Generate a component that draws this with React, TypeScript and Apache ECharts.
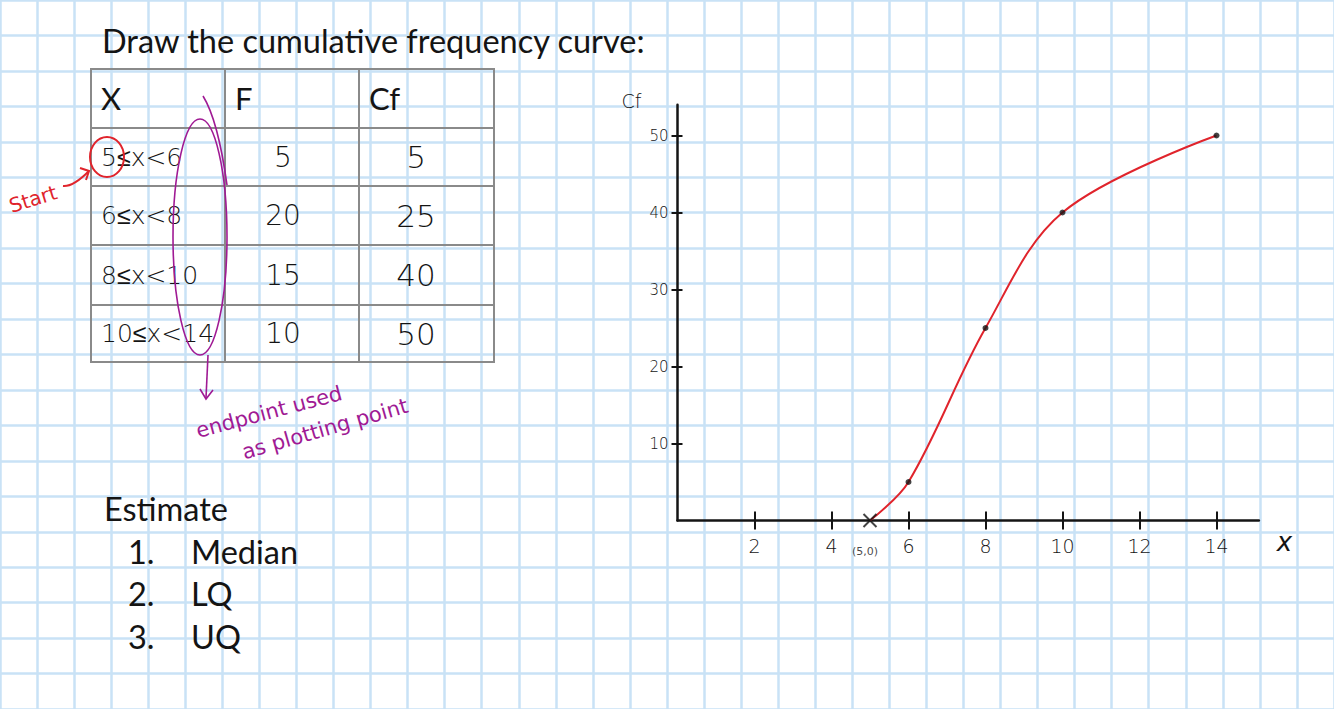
import React, { useEffect, useRef } from "react";
import * as echarts from "echarts";

// ---- data ----
const classLower = [5, 6, 8, 10];
const classUpper = [6, 8, 10, 14];
const frequency = [5, 20, 15, 10];
const cumFrequency = [5, 25, 40, 50];
const tableHeaders = ["X", "F", "Cf"];
const xTickValues = [2, 4, 6, 8, 10, 12, 14];
const yTickValues = [10, 20, 30, 40, 50];
const estimateItems = ["Median", "LQ", "UQ"];
const titleText = "Draw the cumulative frequency curve:";
const startNote = "Start";
const endNoteLines = ["endpoint used", "as plotting point"];

const startPoint = [classLower[0], 0];
const plotPoints = classUpper.map((u, i) => [u, cumFrequency[i]]);
const curvePoints = [startPoint, ...plotPoints];

// ---- styles ----
const INK = "#141414";
const RED = "#e0242c";
const PURPLE = "#a01a94";
const GRIDBLUE = "#c9e2f6";
const TABLE_LINE = "#8a8a8a";
const PRINT_FONT = "Lato, 'Open Sans', sans-serif";
const HAND_FONT = "'DejaVu Sans', sans-serif";
const CELL = 38.5;

function buildGraphics() {
  const g: any[] = [];
  const txt = (text: string, x: number, y: number, o: any = {}) => ({
    type: "text",
    x,
    y,
    rotation: o.rotation || 0,
    z: 20,
    style: {
      text,
      fill: o.fill || INK,
      fontSize: o.fontSize || 32,
      fontFamily: o.fontFamily || PRINT_FONT,
      fontWeight: o.fontWeight || "normal",
      align: o.align || "left",
      textAlign: o.align || "left",
      verticalAlign: "middle",
      textVerticalAlign: "middle",
    },
  });
  // title
  g.push(txt(titleText, 102, 40, { fontSize: 32.5 }));

  // table
  const colX = [91, 225, 359, 494];
  const rowY = [69, 128, 186, 245, 305, 362];
  g.push({
    type: "rect",
    z: 20,
    shape: { x: colX[0], y: rowY[0], width: colX[3] - colX[0], height: rowY[5] - rowY[0] },
    style: { fill: "none", stroke: TABLE_LINE, lineWidth: 2 },
  });
  colX.slice(1, 3).forEach((x) =>
    g.push({ type: "line", z: 20, shape: { x1: x, y1: rowY[0], x2: x, y2: rowY[5] }, style: { stroke: TABLE_LINE, lineWidth: 2 } })
  );
  rowY.slice(1, 5).forEach((y) =>
    g.push({ type: "line", z: 20, shape: { x1: colX[0], y1: y, x2: colX[3], y2: y }, style: { stroke: TABLE_LINE, lineWidth: 2 } })
  );
  tableHeaders.forEach((h, i) => g.push(txt(h, colX[i] + 10, 98, { fontSize: 31 })));
  classLower.forEach((lo, i) => {
    const cy = (rowY[i + 1] + rowY[i + 2]) / 2;
    g.push(txt(`${lo}≤x<${classUpper[i]}`, 101, cy, { fontSize: 25, fontFamily: HAND_FONT, fontWeight: 300 }));
    g.push(txt(String(frequency[i]), 283, cy, { fontSize: 28, fontFamily: HAND_FONT, fontWeight: 300, align: "center" }));
    g.push(txt(String(cumFrequency[i]), 416, cy, { fontSize: 31, fontFamily: HAND_FONT, fontWeight: 300, align: "center" }));
  });

  // red "start" annotation
  g.push({ type: "ellipse", z: 21, shape: { cx: 107, cy: 157, rx: 17, ry: 20 }, style: { fill: "none", stroke: RED, lineWidth: 2 } });
  g.push({ type: "bezierCurve", z: 21, shape: { x1: 63, y1: 186, cpx1: 73, cpy1: 187, x2: 89, y2: 171 }, style: { fill: "none", stroke: RED, lineWidth: 2 } });
  g.push({ type: "polyline", z: 21, shape: { points: [[80, 168], [89, 171], [86, 180]] }, style: { fill: "none", stroke: RED, lineWidth: 2 } });
  g.push(txt(startNote, 33, 199, { fill: RED, fontSize: 20, fontFamily: HAND_FONT, align: "center", rotation: 0.3 }));

  // purple "endpoint" annotation
  g.push({ type: "ellipse", z: 21, shape: { cx: 200, cy: 237, rx: 27, ry: 118 }, style: { fill: "none", stroke: PURPLE, lineWidth: 1.6 } });
  g.push({ type: "bezierCurve", z: 21, shape: { x1: 203, y1: 96, cpx1: 218, cpy1: 120, x2: 227, y2: 185 }, style: { fill: "none", stroke: PURPLE, lineWidth: 1.6 } });
  g.push({ type: "line", z: 21, shape: { x1: 208, y1: 355, x2: 206, y2: 398 }, style: { stroke: PURPLE, lineWidth: 1.6 } });
  g.push({ type: "polyline", z: 21, shape: { points: [[200, 389], [206, 399], [213, 390]] }, style: { fill: "none", stroke: PURPLE, lineWidth: 1.6 } });
  g.push(txt(endNoteLines[0], 269, 412, { fill: PURPLE, fontSize: 21, fontFamily: HAND_FONT, align: "center", rotation: 0.26 }));
  g.push(txt(endNoteLines[1], 325, 429, { fill: PURPLE, fontSize: 21, fontFamily: HAND_FONT, align: "center", rotation: 0.28 }));

  // estimate list
  g.push(txt("Estimate", 104, 508, { fontSize: 32.5 }));
  estimateItems.forEach((item, i) => {
    const cy = 551 + i * 42.5;
    g.push(txt(`${i + 1}.`, 128, cy, { fontSize: 32.5 }));
    g.push(txt(item, 191, cy, { fontSize: 32.5 }));
  });
  return g;
}

const X0 = 677.5;
const Y0 = 520.5;
const X_MAX = 15.1;
const Y_MAX = 54;

export default function App() {
  const ref = useRef<HTMLDivElement>(null);
  useEffect(() => {
    document.body.style.margin = "0";
    if (!ref.current) return;
    const chart = echarts.init(ref.current, undefined, { renderer: "svg" });
    const xPx = CELL; // 1 x-unit per grid cell
    const yPx = CELL / 5; // 5 y-units per grid cell
    const handLabel = { color: INK, fontFamily: HAND_FONT, fontSize: 19, fontWeight: 300 };
    chart.setOption({
      animation: false,
      backgroundColor: "#ffffff",
      grid: [
        { left: -15.5, top: -18.5, width: 36 * CELL, height: 20 * CELL, show: false },
        { left: X0, top: Y0 - Y_MAX * yPx, width: X_MAX * xPx, height: Y_MAX * yPx, show: false },
      ],
      xAxis: [
        {
          gridIndex: 0, type: "value", min: 0, max: 36, interval: 1, silent: true,
          axisLine: { show: false }, axisTick: { show: false }, axisLabel: { show: false },
          splitLine: { show: true, lineStyle: { color: GRIDBLUE, width: 2.5 } },
        },
        {
          gridIndex: 1, type: "value", min: 0, max: X_MAX, position: "bottom",
          axisLine: { show: true, onZero: false, lineStyle: { color: INK, width: 2.5 } },
          axisTick: { show: true, customValues: xTickValues, length: 9, lineStyle: { color: INK, width: 2 } },
          axisLabel: { show: true, customValues: xTickValues, margin: 16, ...handLabel },
          splitLine: { show: false },
          name: "x", nameLocation: "end", nameGap: 18,
          nameTextStyle: { color: INK, fontFamily: HAND_FONT, fontSize: 26, fontStyle: "italic", fontWeight: 300, verticalAlign: "top", padding: [8, 0, 0, 0] },
        },
        {
          gridIndex: 1, type: "value", min: 0, max: X_MAX, position: "bottom",
          axisLine: { show: false }, axisLabel: { show: false }, splitLine: { show: false },
          axisTick: { show: true, inside: true, customValues: xTickValues, length: 9, lineStyle: { color: INK, width: 2 } },
        },
      ],
      yAxis: [
        {
          gridIndex: 0, type: "value", min: 0, max: 20, interval: 1, inverse: true, silent: true,
          axisLine: { show: false }, axisTick: { show: false }, axisLabel: { show: false },
          splitLine: { show: true, lineStyle: { color: GRIDBLUE, width: 2.5 } },
        },
        {
          gridIndex: 1, type: "value", min: 0, max: Y_MAX, position: "left",
          axisLine: { show: true, onZero: false, lineStyle: { color: INK, width: 2.5 } },
          axisTick: { show: true, customValues: yTickValues, length: 6, lineStyle: { color: INK, width: 2 } },
          axisLabel: { show: true, customValues: yTickValues, margin: 9, ...handLabel, fontSize: 15 },
          splitLine: { show: false },
          name: "Cf", nameLocation: "end", nameGap: 4,
          nameTextStyle: { color: INK, fontFamily: HAND_FONT, fontSize: 19, fontWeight: 300, align: "right", verticalAlign: "middle", padding: [0, 36, 0, 0] },
        },
        {
          gridIndex: 1, type: "value", min: 0, max: Y_MAX, position: "left",
          axisLine: { show: false }, axisLabel: { show: false }, splitLine: { show: false },
          axisTick: { show: true, inside: true, customValues: yTickValues, length: 5, lineStyle: { color: INK, width: 2 } },
        },
      ],
      graphic: buildGraphics(),
      series: [
        {
          type: "line", xAxisIndex: 1, yAxisIndex: 1, data: curvePoints,
          smooth: 0.35, showSymbol: false, z: 5,
          lineStyle: { color: RED, width: 2 },
        },
        {
          type: "scatter", xAxisIndex: 1, yAxisIndex: 1, data: plotPoints, z: 6,
          symbolSize: 6, itemStyle: { color: INK },
        },
        {
          type: "scatter", xAxisIndex: 1, yAxisIndex: 1, data: [startPoint], z: 7,
          symbol: "path://M0,0L10,10M10,0L0,10", symbolSize: 13,
          itemStyle: { color: "none", borderColor: INK, borderWidth: 2 },
          label: {
            show: true, position: "bottom", distance: 16, offset: [-5, 0],
            formatter: (p: any) => `(${p.value[0]},${p.value[1]})`,
            color: INK, fontFamily: HAND_FONT, fontSize: 11,
          },
        },
      ],
    });
    return () => chart.dispose();
  }, []);
  return <div ref={ref} style={{ position: "fixed", left: 0, top: 0, width: 1334, height: 709 }} />;
}
